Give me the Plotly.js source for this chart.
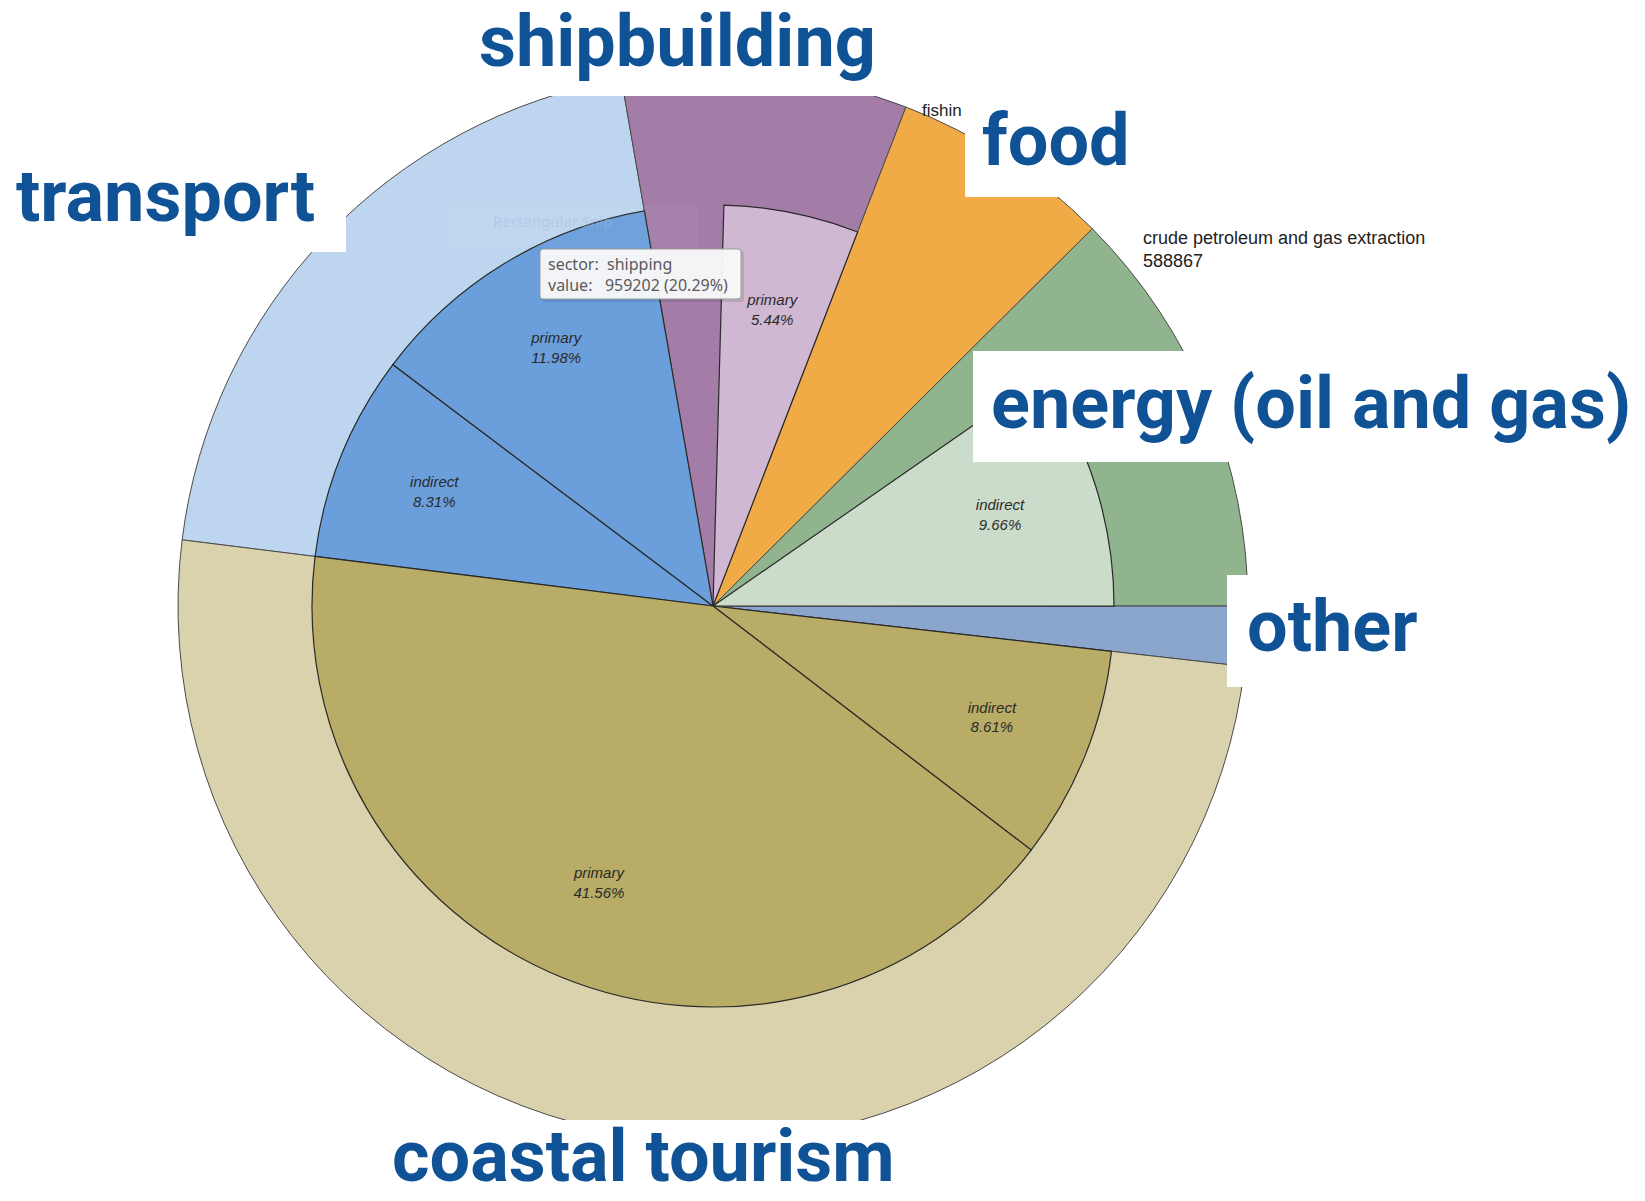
<!DOCTYPE html>
<html>
<head>
<meta charset="utf-8">
<script src="https://cdn.plot.ly/plotly-3.0.1.min.js"></script>
<style>
html,body{margin:0;padding:0;background:#fff;}
#chart{width:1645px;height:1201px;}
</style>
</head>
<body>
<div id="chart"></div>
<script>
// ---------- data ----------
const sectors = ['transport', 'shipbuilding', 'food', 'energy (oil and gas)', 'other', 'coastal tourism'];
const sectorShares = [20.29, 8.61, 6.67, 12.46, 1.80, 50.17];   // % of total
const childSector = ['transport', 'transport', 'shipbuilding', 'energy (oil and gas)', 'coastal tourism', 'coastal tourism'];
const childKind = ['indirect', 'primary', 'primary', 'indirect', 'indirect', 'primary'];
const childShares = [8.31, 11.98, 5.44, 9.66, 8.61, 41.56];     // % of total
const tooltipSector = 'shipping';
const tooltipValue = 959202;
const tooltipShare = 20.29;
const crudeLabel = 'crude petroleum and gas extraction';
const crudeValue = 588867;

// ---------- styles ----------
const sectorColors = ['#bdd5ee', '#a37ca8', '#f1ab46', '#8fb48e', '#8ba6cc', '#d9d2ad'];
const childColors = ['#6a9fdb', '#6a9fdb', '#d0b8d3', '#ccdccb', '#b8ac66', '#b8ac66'];
const labelBlue = '#0f5296';

const W = 1645, H = 1201;
const CX = 713, CY = 606, R_OUT = 535, R_IN = 401;
const START_ANGLE = 172.9;  // math degrees where first sector starts
const RMAX = 1.01;
const R_PIX = R_OUT * RMAX;

const px = x => x / W;
const py = y => 1 - y / H;

// ---------- geometry from data ----------
const secStart = [], secEnd = [];
let cum = 0;
sectorShares.forEach(v => { secStart.push(cum); cum += v; secEnd.push(cum); });
const outerTheta = sectorShares.map((v, i) => (secStart[i] + v / 2) * 3.6);
const outerWidth = sectorShares.map(v => v * 3.6);

const childStart = new Array(childShares.length);
sectors.forEach((s, i) => {
  const idx = childSector.map((c, j) => c === s ? j : -1).filter(j => j >= 0);
  const tot = idx.reduce((a, j) => a + childShares[j], 0);
  let c = secEnd[i] - tot;
  idx.forEach(j => { childStart[j] = c; c += childShares[j]; });
});
const childTheta = childShares.map((v, j) => (childStart[j] + v / 2) * 3.6);
const childWidth = childShares.map(v => v * 3.6);
const innerR = R_IN / R_OUT;

const traces = [
  {
    type: 'barpolar',
    r: sectors.map(() => 1),
    base: sectors.map(() => 0),
    theta: outerTheta,
    width: outerWidth,
    text: sectors,
    marker: { color: sectorColors, line: { color: '#4a4a4a', width: 1 } },
    hoverinfo: 'skip'
  },
  {
    type: 'barpolar',
    r: childShares.map(() => innerR),
    base: childShares.map(() => 0),
    theta: childTheta,
    width: childWidth,
    marker: { color: childColors, line: { color: '#2a2a2a', width: 1.2 } },
    hoverinfo: 'skip'
  },
  {
    type: 'scatterpolar',
    mode: 'text',
    r: childShares.map(() => innerR * 0.75),
    theta: childTheta,
    text: childKind.map((k, j) => k + '<br>' + childShares[j].toFixed(2) + '%'),
    textfont: { family: 'Liberation Sans, Arial, sans-serif', size: 15, color: '#2a2a2a', style: 'italic' },
    textposition: 'middle center',
    cliponaxis: false,
    hoverinfo: 'skip'
  }
];

function box(x0, y0, x1, y1, fill) {
  return { type: 'rect', xref: 'paper', yref: 'paper', layer: 'above',
           x0: px(x0), x1: px(x1), y0: py(y1), y1: py(y0),
           fillcolor: fill || '#ffffff', line: { width: 0 } };
}
function roundBox(x0, y0, x1, y1, r, fill, lineColor) {
  const X = v => px(v).toFixed(6), Y = v => py(v).toFixed(6);
  const d = 'M' + X(x0 + r) + ',' + Y(y0) +
    ' L' + X(x1 - r) + ',' + Y(y0) + ' Q' + X(x1) + ',' + Y(y0) + ' ' + X(x1) + ',' + Y(y0 + r) +
    ' L' + X(x1) + ',' + Y(y1 - r) + ' Q' + X(x1) + ',' + Y(y1) + ' ' + X(x1 - r) + ',' + Y(y1) +
    ' L' + X(x0 + r) + ',' + Y(y1) + ' Q' + X(x0) + ',' + Y(y1) + ' ' + X(x0) + ',' + Y(y1 - r) +
    ' L' + X(x0) + ',' + Y(y0 + r) + ' Q' + X(x0) + ',' + Y(y0) + ' ' + X(x0 + r) + ',' + Y(y0) + ' Z';
  return { type: 'path', xref: 'paper', yref: 'paper', layer: 'above', path: d,
           fillcolor: fill, line: lineColor ? { color: lineColor, width: 1 } : { width: 0 } };
}

const shapes = [
  box(0, 0, W, 96),
  box(0, 1120, W, H),
  box(0, 130, 346, 252),
  box(965, 90, 1140, 197),
  box(973, 351, W, 462),
  box(1227, 575, 1420, 687),
  box(446, 205, 698, 247, 'rgba(220,232,246,0.05)'),
  roundBox(542, 251, 744, 302, 3, 'rgba(0,0,0,0.10)'),
  roundBox(540, 249, 741, 299, 3, 'rgba(250,250,250,0.95)', '#9a9a9a')
];

const bigFont = { family: 'Roboto, Open Sans, sans-serif', size: 72, color: labelBlue, weight: 700 };
function bigLabel(text, xc, yc, yanchor) {
  return { text: text, xref: 'paper', yref: 'paper', x: px(xc), y: py(yc),
           xanchor: 'center', yanchor: yanchor || 'middle', showarrow: false, font: bigFont };
}
const nb = '\u00a0';
const annotations = [
  bigLabel(sectors[1], 677, 41),
  bigLabel(sectors[0], 165, 197),
  bigLabel(sectors[2], 1056, 141),
  bigLabel(sectors[3], 1311, 404),
  bigLabel(sectors[4], 1332, 626),
  bigLabel(sectors[5], 643, H, 'bottom'),
  { text: 'Rectangular Snip', xref: 'paper', yref: 'paper', x: px(491), y: py(221),
    xanchor: 'left', yanchor: 'middle', showarrow: false,
    font: { family: 'Noto Sans, sans-serif', size: 15, color: 'rgba(160,188,222,0.45)' } },
  { text: 'sector:' + nb + nb + tooltipSector + '<br>value:' + nb + nb + nb + tooltipValue + ' (' + tooltipShare.toFixed(2) + '%)',
    xref: 'paper', yref: 'paper', x: px(546), y: py(274), xanchor: 'left', yanchor: 'middle',
    align: 'left', showarrow: false,
    font: { family: 'Noto Sans, sans-serif', size: 16, color: '#5a5a5a' } },
  { text: 'fishin', xref: 'paper', yref: 'paper', x: px(920), y: py(111), xanchor: 'left', yanchor: 'middle',
    showarrow: false, font: { family: 'Liberation Sans, Arial, sans-serif', size: 17, color: '#222222' } },
  { text: crudeLabel + '<br>' + crudeValue, xref: 'paper', yref: 'paper', x: px(1141), y: py(249),
    xanchor: 'left', yanchor: 'middle', align: 'left', showarrow: false,
    font: { family: 'Liberation Sans, Arial, sans-serif', size: 18, color: '#222222' } }
];

const layout = {
  width: W, height: H,
  margin: { l: 0, r: 0, t: 0, b: 0 },
  paper_bgcolor: '#ffffff',
  showlegend: false,
  polar: {
    domain: { x: [px(CX - R_PIX), px(CX + R_PIX)], y: [py(CY + R_PIX), py(CY - R_PIX)] },
    bgcolor: 'rgba(0,0,0,0)',
    hole: 0,
    bargap: 0,
    radialaxis: { visible: false, range: [0, RMAX] },
    angularaxis: { visible: false, direction: 'clockwise', rotation: START_ANGLE, thetaunit: 'degrees' }
  },
  shapes: shapes,
  annotations: annotations
};

Plotly.newPlot('chart', traces, layout, { displayModeBar: false, staticPlot: true });
</script>
</body>
</html>
